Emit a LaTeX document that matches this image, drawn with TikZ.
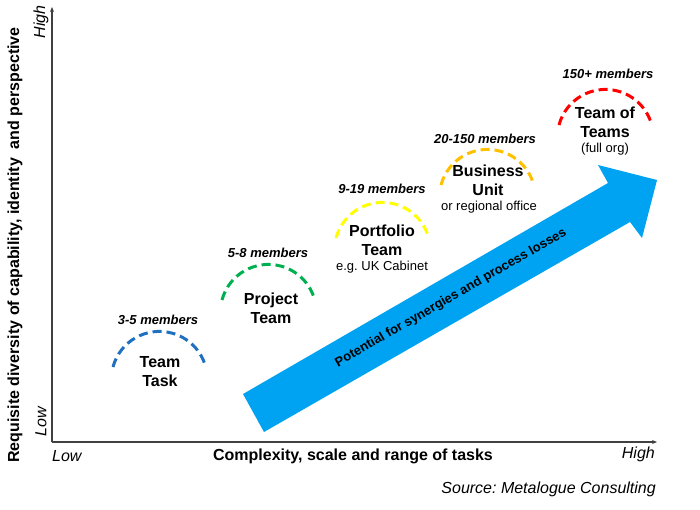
\documentclass[tikz,border=0pt]{standalone}
\usepackage{fontspec}
\setmainfont{Liberation Sans}
\frenchspacing
\usetikzlibrary{arrows.meta,positioning}
\definecolor{taskblue}{HTML}{2070C0}
\definecolor{projgreen}{HTML}{00B050}
\definecolor{portyellow}{HTML}{FFFF00}
\definecolor{unitgold}{HTML}{FFC000}
\definecolor{orgred}{HTML}{FF0000}
\definecolor{arrowblue}{HTML}{00A2F2}
\definecolor{axisgray}{HTML}{404040}

\begin{document}
\begin{tikzpicture}[x=1pt, y=-1pt,
    axis/.style={axisgray, line width=1.3pt, -{Stealth[length=5pt,width=4pt]}},
    teamarc/.style={line width=3pt, dash pattern=on 9pt off 5pt},
    teamname/.style={font=\fontsize{16}{19}\selectfont\bfseries, align=center},
    members/.style={font=\fontsize{13}{15}\selectfont\bfseries\itshape},
    subnote/.style={font=\fontsize{13}{15}\selectfont},
    axislabel/.style={font=\fontsize{16}{19}\selectfont\bfseries},
    axisend/.style={font=\fontsize{16}{19}\selectfont\itshape}]
    \useasboundingbox (0,0) rectangle (700,509);

    % Axes
    \coordinate (origin) at (52,442);
    \coordinate (ytop) at (52,7);
    \coordinate (xend) at (657,442);
    \draw[axis] (origin) -- (ytop);
    \draw[axis] (origin) -- (xend);

    % Axis labels
    \node[axislabel, rotate=90] (ylabel) at (15,245) {Requisite diversity of capability, identity\ \ and perspective};
    \node[axislabel] (xlabel) at (353,456) {Complexity, scale and range of tasks};
    \node[axisend, rotate=90] (ylow) at (41,422) {Low};
    \node[axisend, rotate=90] (yhigh) at (41,22) {High};
    \node[axisend, anchor=west, inner xsep=0pt] (xlow) at (52,456) {Low};
    \node[axisend, anchor=east, inner xsep=0pt] (xhigh) at (655,454) {High};
    \node[axisend, anchor=east, inner xsep=0pt] (source) at (656,489) {Source: Metalogue Consulting};

    % Big arrow
    \fill[arrowblue] (243,394) -- (264,432) -- (630,222) -- (642,238)
        -- (657,180) -- (598,165) -- (608,183) -- cycle;
    \node[font=\fontsize{13}{15}\selectfont\bfseries, rotate=30] (potential) at (451,298) {Potential for synergies and process losses};

    % Team Task (blue)
    \draw[teamarc, taskblue] (113,367) arc[start angle=195, end angle=345, radius=48];
    \node[teamname] (task) at (160,372) {Team\\Task};
    \node[members] (task-m) at (158,320) {3-5 members};

    % Project Team (green)
    \draw[teamarc, projgreen] (222,300) arc[start angle=195, end angle=345, radius=48];
    \node[teamname] (project) at (271,308) {Project\\Team};
    \node[members] (project-m) at (268,253) {5-8 members};

    % Portfolio Team (yellow)
    \draw[teamarc, portyellow] (336,238) arc[start angle=195, end angle=345, radius=48];
    \node[teamname] (portfolio) at (382,240) {Portfolio\\Team};
    \node[members] (portfolio-m) at (382,189) {9-19 members};
    \node[subnote] (portfolio-s) at (382,267) {e.g. UK Cabinet};

    % Business Unit (gold)
    \draw[teamarc, unitgold] (441,185) arc[start angle=195, end angle=345, radius=48];
    \node[teamname] (unit) at (488,180) {Business\\Unit};
    \node[members] (unit-m) at (485,139) {20-150 members};
    \node[subnote] (unit-s) at (489,207) {or regional office};

    % Team of Teams (red)
    \draw[teamarc, orgred] (559,125) arc[start angle=195, end angle=345, radius=48];
    \node[teamname] (org) at (605,122) {Team of\\Teams};
    \node[members] (org-m) at (608,74) {150+ members};
    \node[subnote] (org-s) at (605,149) {(full org)};
\end{tikzpicture}
\end{document}
